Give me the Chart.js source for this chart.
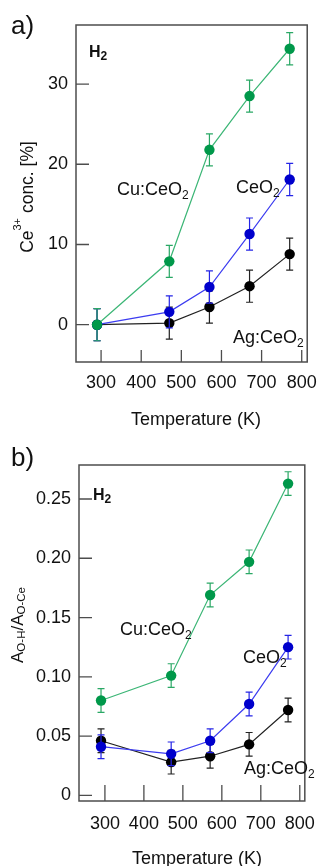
<!DOCTYPE html>
<html>
<head>
<meta charset="utf-8">
<script src="https://cdn.jsdelivr.net/npm/chart.js@4/dist/chart.umd.min.js"></script>
<style>
  html, body { margin: 0; padding: 0; background: #fff; }
  canvas { display: block; }
</style>
</head>
<body>
<canvas id="chartA" width="327" height="433"></canvas>
<canvas id="chartB" width="327" height="433"></canvas>
<script>
// ---------- data ----------
const temps = [290, 470, 570, 670, 770];
const xTicks = [300, 400, 500, 600, 700, 800];
const seriesNames = ['Cu:CeO2', 'CeO2', 'Ag:CeO2'];

// panel a) Ce3+ concentration [%]
const ce3Cu = [0, 7.9, 21.8, 28.5, 34.4];
const ce3Ce = [0, 1.6, 4.7, 11.3, 18.1];
const ce3Ag = [0, 0.2, 2.2, 4.8, 8.8];
const ce3CuErr = [2, 2, 2, 2, 2];
const ce3CeErr = [2, 2, 2, 2, 2];
const ce3AgErr = [2, 2, 2, 2, 2];
const ce3Ticks = [0, 10, 20, 30];
const ce3TickLabels = ['0', '10', '20', '30'];

// panel b) A(O-H)/A(O-Ce)
const ohCu = [0.080, 0.101, 0.169, 0.197, 0.263];
const ohCe = [0.041, 0.035, 0.046, 0.077, 0.125];
const ohAg = [0.046, 0.028, 0.033, 0.043, 0.072];
const ohCuErr = [0.01, 0.01, 0.01, 0.01, 0.01];
const ohCeErr = [0.01, 0.01, 0.01, 0.01, 0.01];
const ohAgErr = [0.01, 0.01, 0.01, 0.01, 0.01];
const ohTicks = [0, 0.05, 0.10, 0.15, 0.20, 0.25];
const ohTickLabels = ['0', '0.05', '0.10', '0.15', '0.20', '0.25'];

// ---------- styles ----------
const FONT = "'Liberation Sans', Arial, sans-serif";
Chart.defaults.font.family = FONT;
const styles = [
  { marker: '#00984a', line: '#3cb676', err: '#2aa865' },   // Cu:CeO2
  { marker: '#0000cc', line: '#3c3cf0', err: '#2525e6' },   // CeO2
  { marker: '#000000', line: '#222222', err: '#222222' }    // Ag:CeO2
];

function makeDataset(i, vals, errs) {
  return {
    label: seriesNames[i],
    data: temps.map((t, k) => ({ x: t, y: vals[k] })),
    errorBars: errs,
    borderColor: styles[i].line,
    backgroundColor: styles[i].marker,
    pointBackgroundColor: styles[i].marker,
    pointBorderColor: styles[i].marker,
    pointBorderWidth: 0,
    pointRadius: 5.2,
    borderWidth: 1.2,
    errColor: styles[i].err,
    tension: 0,
    fill: false
  };
}

function drawRich(ctx, parts, x, y, align) {
  let w = 0;
  parts.forEach(p => { ctx.font = p.f; w += ctx.measureText(p.t).width; });
  let cx = align === 'center' ? x - w / 2 : x;
  ctx.textAlign = 'left';
  ctx.textBaseline = 'alphabetic';
  parts.forEach(p => {
    ctx.font = p.f;
    ctx.fillText(p.t, cx, y + (p.dy || 0));
    cx += ctx.measureText(p.t).width;
  });
}

const panelPlugin = {
  id: 'panel',
  beforeDatasetsDraw(chart, args, opts) {
    const ctx = chart.ctx, a = chart.chartArea;
    const xs = chart.scales.x, ys = chart.scales.y;
    ctx.save();
    ctx.strokeStyle = '#4d4d4d';
    ctx.lineWidth = 1.5;
    ctx.strokeRect(a.left, a.top, a.right - a.left, a.bottom - a.top);
    ctx.lineWidth = 1.3;
    ctx.beginPath();
    xs.ticks.forEach(t => {
      const px = xs.getPixelForValue(t.value);
      ctx.moveTo(px, a.bottom);
      ctx.lineTo(px, a.bottom - opts.tickX);
    });
    ys.ticks.forEach(t => {
      const py = ys.getPixelForValue(t.value);
      ctx.moveTo(a.left, py);
      ctx.lineTo(a.left + opts.tickY, py);
    });
    ctx.stroke();
    ctx.restore();
  },
  beforeDatasetDraw(chart, args) {
    const ds = chart.data.datasets[args.index];
    const ys = chart.scales.y;
    const ctx = chart.ctx;
    ctx.save();
    ctx.strokeStyle = ds.errColor;
    ctx.lineWidth = 1.2;
    ctx.beginPath();
    args.meta.data.forEach((pt, k) => {
      const v = ds.data[k].y, e = ds.errorBars[k];
      const yTop = ys.getPixelForValue(v + e);
      const yBot = ys.getPixelForValue(v - e);
      ctx.moveTo(pt.x, yTop); ctx.lineTo(pt.x, yBot);
      ctx.moveTo(pt.x - 3.5, yTop); ctx.lineTo(pt.x + 3.5, yTop);
      ctx.moveTo(pt.x - 3.5, yBot); ctx.lineTo(pt.x + 3.5, yBot);
    });
    ctx.stroke();
    ctx.restore();
  },
  afterDraw(chart, args, opts) {
    const ctx = chart.ctx;
    ctx.save();
    ctx.fillStyle = '#111';
    (opts.texts || []).forEach(tx => {
      if (tx.rotate) {
        ctx.save();
        ctx.translate(tx.x, tx.y);
        ctx.rotate(-Math.PI / 2);
        drawRich(ctx, tx.parts, 0, 0, 'center');
        ctx.restore();
      } else {
        drawRich(ctx, tx.parts, tx.x, tx.y, tx.align || 'left');
      }
    });
    ctx.restore();
  }
};

function lbl(main, sub, size) {
  return [
    { t: main, f: size + 'px ' + FONT },
    { t: sub, f: Math.round(size * 0.66) + 'px ' + FONT, dy: 4 }
  ];
}

function buildChart(id, datasets, cfg) {
  return new Chart(document.getElementById(id), {
    type: 'line',
    data: { datasets: datasets },
    plugins: [panelPlugin],
    options: {
      responsive: false,
      animation: false,
      events: [],
      layout: { padding: { top: cfg.top, right: cfg.right, left: 0, bottom: 0 } },
      plugins: {
        legend: { display: false },
        tooltip: { enabled: false },
        panel: { tickX: cfg.tickX, tickY: cfg.tickY, texts: cfg.texts }
      },
      scales: {
        x: {
          type: 'linear',
          min: cfg.xMin, max: cfg.xMax,
          afterBuildTicks: s => { s.ticks = xTicks.map(v => ({ value: v })); },
          afterFit: s => { s.height = cfg.xHeight; },
          grid: { display: false, drawTicks: false },
          border: { display: false },
          ticks: {
            padding: cfg.xPad, color: '#111', font: { size: 18 },
            maxRotation: 0, autoSkip: false,
            callback: v => String(v)
          }
        },
        y: {
          type: 'linear',
          min: cfg.yMin, max: cfg.yMax,
          afterBuildTicks: s => { s.ticks = cfg.yTicks.map(v => ({ value: v })); },
          afterFit: s => { s.width = cfg.yWidth; },
          grid: { display: false, drawTicks: false },
          border: { display: false },
          ticks: {
            padding: 8, color: '#111', font: { size: 18 }, autoSkip: false,
            callback: (v, i) => cfg.yLabels[i]
          }
        }
      }
    }
  });
}

// ---------- panel a ----------
buildChart('chartA', [
  makeDataset(0, ce3Cu, ce3CuErr),
  makeDataset(1, ce3Ce, ce3CeErr),
  makeDataset(2, ce3Ag, ce3AgErr)
], {
  top: 25, right: 11, xHeight: 71, yWidth: 76, xPad: 10,
  xMin: 237.5, xMax: 813.7, yMin: -4.65, yMax: 37.36,
  yTicks: ce3Ticks, yLabels: ce3TickLabels, tickX: 12, tickY: 13,
  texts: [
    { parts: [{ t: 'a)', f: '26px ' + FONT }], x: 11, y: 34 },
    { parts: [{ t: 'H', f: 'bold 16px ' + FONT }, { t: '2', f: 'bold 12px ' + FONT, dy: 3 }], x: 89, y: 57 },
    { parts: lbl('Cu:CeO', '2', 18), x: 117, y: 195 },
    { parts: lbl('CeO', '2', 18), x: 236, y: 193 },
    { parts: lbl('Ag:CeO', '2', 18), x: 233, y: 343 },
    { parts: [{ t: 'Temperature (K)', f: '18px ' + FONT }], x: 196, y: 425, align: 'center' },
    { rotate: true, x: 33, y: 197, parts: [
      { t: 'Ce', f: '17.5px ' + FONT },
      { t: '3+', f: '11px ' + FONT, dy: -12 },
      { t: ' conc. [%]', f: '17.5px ' + FONT }
    ] }
  ]
});

// ---------- panel b ----------
buildChart('chartB', [
  makeDataset(0, ohCu, ohCuErr),
  makeDataset(1, ohCe, ohCeErr),
  makeDataset(2, ohAg, ohAgErr)
], {
  top: 32, right: 9, xHeight: 65, yWidth: 79, xPad: 12,
  xMin: 233.5, xMax: 812.9, yMin: -0.0048, yMax: 0.2787,
  yTicks: ohTicks, yLabels: ohTickLabels, tickX: 16, tickY: 13,
  texts: [
    { parts: [{ t: 'b)', f: '26px ' + FONT }], x: 11, y: 33 },
    { parts: [{ t: 'H', f: 'bold 16px ' + FONT }, { t: '2', f: 'bold 12px ' + FONT, dy: 3 }], x: 93, y: 67 },
    { parts: lbl('Cu:CeO', '2', 18), x: 120, y: 202 },
    { parts: lbl('CeO', '2', 18), x: 243, y: 230 },
    { parts: lbl('Ag:CeO', '2', 18), x: 244, y: 341 },
    { parts: [{ t: 'Temperature (K)', f: '18px ' + FONT }], x: 197, y: 431, align: 'center' },
    { rotate: true, x: 23, y: 192, parts: [
      { t: 'A', f: '17px ' + FONT },
      { t: 'O-H', f: '11.5px ' + FONT, dy: 2 },
      { t: '/A', f: '17px ' + FONT },
      { t: 'O-Ce', f: '11.5px ' + FONT, dy: 2 }
    ] }
  ]
});
</script>
</body>
</html>
